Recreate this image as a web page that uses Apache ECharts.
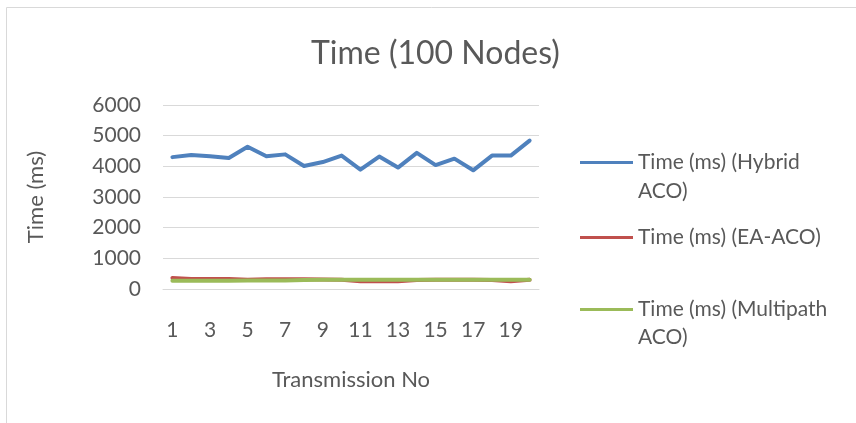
<!DOCTYPE html>
<html>
<head>
<meta charset="utf-8">
<script src="https://cdn.jsdelivr.net/npm/echarts@6/dist/echarts.min.js"></script>
<style>
  html, body { margin: 0; padding: 0; background: #fff; }
  #chart { width: 856px; height: 423px; }
</style>
</head>
<body>
<div id="chart"></div>
<script>
  // categories and values
  var transmissions = ['1','2','3','4','5','6','7','8','9','10','11','12','13','14','15','16','17','18','19','20']
  var hybridAco = [4300, 4370, 4330, 4270, 4640, 4330, 4390, 4010, 4140, 4350, 3890, 4320, 3960, 4440, 4040, 4250, 3870, 4350, 4350, 4840]
  var eaAco = [360, 330, 330, 330, 300, 320, 320, 320, 310, 300, 250, 260, 250, 290, 300, 300, 300, 290, 250, 300]
  var multipathAco = [270, 270, 270, 270, 280, 280, 280, 290, 300, 300, 300, 300, 300, 300, 300, 300, 300, 300, 300, 300]
  var yTicks = [0, 1000, 2000, 3000, 4000, 5000, 6000]

  var font = 'Lato, "Open Sans", sans-serif'
  var grey = '#595959'

  var myChart = echarts.init(document.getElementById('chart'))

  var legendText = { fontFamily: font, fontSize: 21, color: grey }

  var option = {
    animation: false,
    textStyle: { fontFamily: font },
    title: {
      text: 'Time (100 Nodes)',
      left: 311,
      top: 38,
      padding: 0,
      textStyle: { fontFamily: font, fontSize: 32, fontWeight: 'normal', color: grey }
    },
    legend: [
      {
        data: ['Time (ms) (Hybrid ACO)'],
        left: 580, top: 152, padding: 0, icon: 'rect', itemWidth: 53, itemHeight: 3,
        formatter: function () { return 'Time (ms) (Hybrid' },
        textStyle: legendText
      },
      {
        data: ['Time (ms) (EA-ACO)'],
        left: 580, top: 227, padding: 0, icon: 'rect', itemWidth: 53, itemHeight: 3,
        textStyle: legendText
      },
      {
        data: ['Time (ms) (Multipath ACO)'],
        left: 580, top: 299, padding: 0, icon: 'rect', itemWidth: 53, itemHeight: 3,
        formatter: function () { return 'Time (ms) (Multipath' },
        textStyle: legendText
      }
    ],
    graphic: [
      {
        type: 'rect', silent: true, z: -1,
        shape: { x: 6.5, y: 7.5, width: 900, height: 500 },
        style: { fill: 'none', stroke: '#D9D9D9', lineWidth: 1 }
      },
      {
        type: 'text', left: 638, top: 181,
        style: { text: 'ACO)', font: '21px ' + font, fill: grey }
      },
      {
        type: 'text', left: 638, top: 327,
        style: { text: 'ACO)', font: '21px ' + font, fill: grey }
      }
    ],
    grid: { left: 163, right: 317, top: 105, bottom: 134 },
    xAxis: {
      type: 'category',
      boundaryGap: true,
      data: transmissions,
      name: 'Transmission No',
      nameLocation: 'middle',
      nameGap: 80,
      nameTextStyle: { fontFamily: font, fontSize: 22, color: grey },
      axisLine: { lineStyle: { color: '#D9D9D9' } },
      axisTick: { show: false },
      axisLabel: { interval: 1, margin: 31, fontSize: 21, color: grey, fontFamily: font }
    },
    yAxis: {
      type: 'value',
      min: yTicks[0],
      max: yTicks[yTicks.length - 1],
      interval: 1000,
      name: 'Time (ms)',
      nameLocation: 'middle',
      nameGap: 116,
      nameTextStyle: { fontFamily: font, fontSize: 22, color: grey },
      axisLine: { show: false },
      axisTick: { show: false },
      axisLabel: {
        margin: 22, fontSize: 21, color: grey, fontFamily: font,
        formatter: function (v) { return String(v) }
      },
      splitLine: { lineStyle: { color: '#D9D9D9' } }
    },
    series: [
      {
        name: 'Time (ms) (Hybrid ACO)', type: 'line', symbol: 'none',
        color: '#4F81BD', lineStyle: { width: 4, color: '#4F81BD', cap: 'round', join: 'round' },
        data: hybridAco
      },
      {
        name: 'Time (ms) (EA-ACO)', type: 'line', symbol: 'none',
        color: '#C0504D', lineStyle: { width: 4, color: '#C0504D', cap: 'round', join: 'round' },
        data: eaAco
      },
      {
        name: 'Time (ms) (Multipath ACO)', type: 'line', symbol: 'none',
        color: '#9BBB59', lineStyle: { width: 4, color: '#9BBB59', cap: 'round', join: 'round' },
        data: multipathAco
      }
    ]
  }

  myChart.setOption(option)
</script>
</body>
</html>
